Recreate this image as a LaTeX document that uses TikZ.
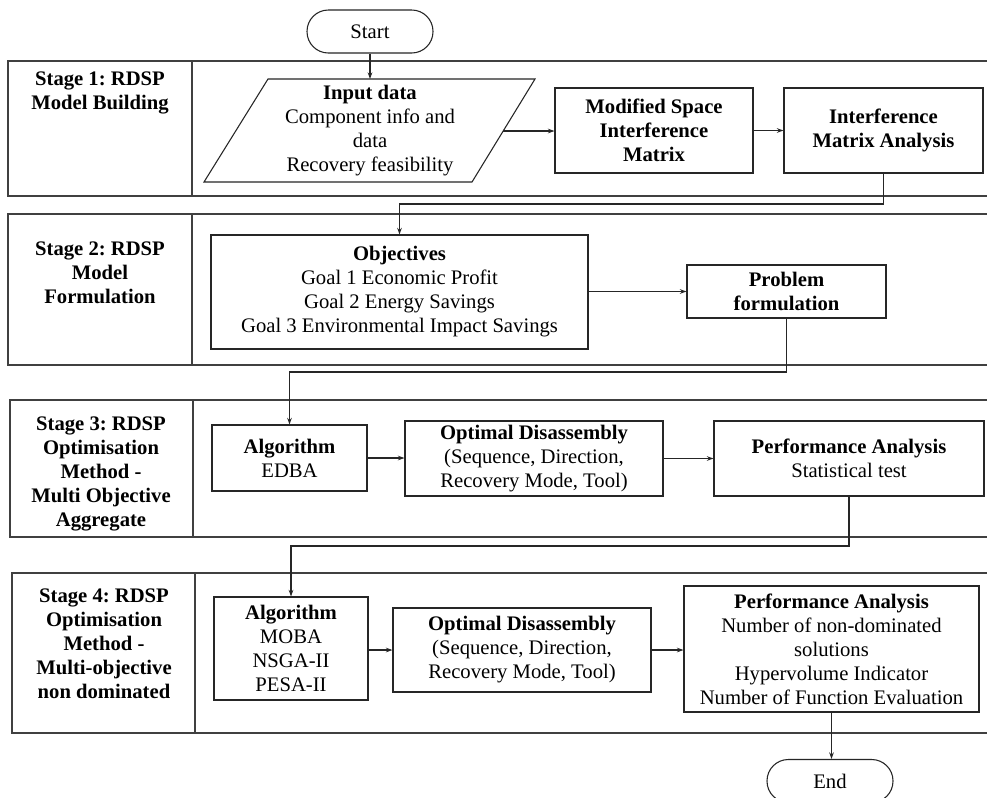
\documentclass[tikz,border=0pt]{standalone}
\usepackage{fontspec}
\setmainfont{Liberation Serif}
\usetikzlibrary{arrows.meta}
\frenchspacing
\begin{document}
\begin{tikzpicture}[x=0.75pt,y=-0.75pt,
  every node/.style={font=\fontsize{15.5}{18}\selectfont},
  box/.style={draw=black!85, line width=0.8pt, align=center, inner sep=0pt},
  term/.style={box, rounded corners=16pt},
  band/.style={draw=black!75, line width=0.9pt},
  lbl/.style={align=center, inner sep=0pt, anchor=north, font=\fontsize{15.5}{18}\selectfont\bfseries},
  arr/.style={draw=black!85, line width=0.8pt, -{Stealth[length=5pt,width=3.5pt]}},
  ln/.style={draw=black!85, line width=0.8pt}]
\useasboundingbox (0,0) rectangle (987,797);
\fill[white] (0,0) rectangle (987,797);

% stage bands
\draw[band] (987,61) -- (8,61) -- (8,196) -- (987,196);
\draw[band] (192,61) -- (192,196);
\draw[band] (987,214) -- (8,214) -- (8,365) -- (987,365);
\draw[band] (192,214) -- (192,365);
\draw[band] (987,400) -- (10,400) -- (10,537) -- (987,537);
\draw[band] (193,400) -- (193,537);
\draw[band] (987,573) -- (12,573) -- (12,733) -- (987,733);
\draw[band] (195,573) -- (195,733);

% stage labels
\node[lbl] (s1) at (100,72) {Stage 1: RDSP\\Model Building};
\node[lbl] (s2) at (100,242) {Stage 2: RDSP\\Model\\Formulation};
\node[lbl] (s3) at (101,417) {Stage 3: RDSP\\Optimisation\\Method -\\Multi Objective\\Aggregate};
\node[lbl] (s4) at (104,589) {Stage 4: RDSP\\Optimisation\\Method -\\Multi-objective\\non dominated};

% start
\node[term, minimum width=94.5pt, minimum height=32.25pt] (start) at (370,31.5) {Start};

% input data parallelogram
\draw[ln] (268,79) -- (535,79) -- (472,182) -- (204,182) -- cycle;
\node[align=center, inner sep=0pt] (input) at (370,131) {\textbf{Input data}\\Component info and\\data\\Recovery feasibility};
\coordinate (inTop) at (370,79);
\coordinate (inR) at (503,131);

\node[box, minimum width=148.5pt, minimum height=63.75pt] (mod) at (654,130.5) {\textbf{Modified Space}\\\textbf{Interference}\\\textbf{Matrix}};
\node[box, minimum width=149.25pt, minimum height=63.75pt] (inter) at (883.5,130.5) {\textbf{Interference}\\\textbf{Matrix Analysis}};

% stage 2
\node[box, minimum width=282.75pt, minimum height=85.5pt] (obj) at (399.5,292) {\textbf{Objectives}\\Goal 1 Economic Profit\\Goal 2 Energy Savings\\Goal 3 Environmental Impact Savings};
\node[box, minimum width=149.25pt, minimum height=39.75pt] (prob) at (786.5,291.5) {\textbf{Problem}\\\textbf{formulation}};

% stage 3
\node[box, minimum width=116.25pt, minimum height=49.5pt] (alg1) at (289.5,458) {\textbf{Algorithm}\\EDBA};
\node[box, minimum width=193.5pt, minimum height=56.25pt] (opt1) at (534,458.5) {\textbf{Optimal Disassembly}\\(Sequence, Direction,\\Recovery Mode, Tool)};
\node[box, minimum width=202.5pt, minimum height=56.25pt] (perf1) at (849,458.5) {\textbf{Performance Analysis}\\Statistical test};

% stage 4
\node[box, minimum width=115.5pt, minimum height=77.25pt] (alg2) at (291,648.5) {\textbf{Algorithm}\\MOBA\\NSGA-II\\PESA-II};
\node[box, minimum width=193.5pt, minimum height=63pt] (opt2) at (522,650) {\textbf{Optimal Disassembly}\\(Sequence, Direction,\\Recovery Mode, Tool)};
\node[box, minimum width=221.25pt, minimum height=94.5pt] (perf2) at (831.5,649) {\textbf{Performance Analysis}\\Number of non-dominated\\solutions\\Hypervolume Indicator\\Number of Function Evaluation};

% end
\node[term, minimum width=94.5pt, minimum height=32.25pt] (end) at (830,781) {End};

% connectors
\coordinate (c1) at (0,204);
\coordinate (c2) at (0,372);
\coordinate (c3) at (0,546);
\draw[arr] (start.south) -- (inTop);
\draw[arr] (inR) -- (inR -| mod.west);
\draw[arr] (mod.east) -- (inter.west);
\draw[arr] (inter.south) -- (inter.south |- c1) -| (obj.north);
\draw[arr] (obj.east |- prob.west) -- (prob.west);
\draw[arr] (prob.south) -- (prob.south |- c2) -| (alg1.north);
\draw[arr] (alg1.east) -- (alg1.east -| opt1.west);
\draw[arr] (opt1.east) -- (perf1.west);
\draw[arr] (perf1.south) -- (perf1.south |- c3) -| (alg2.north);
\draw[arr] (alg2.east |- opt2.west) -- (opt2.west);
\draw[arr] (opt2.east) -- (opt2.east -| perf2.west);
\draw[arr] (perf2.south) -- (perf2.south |- end.north);
\end{tikzpicture}
\end{document}
